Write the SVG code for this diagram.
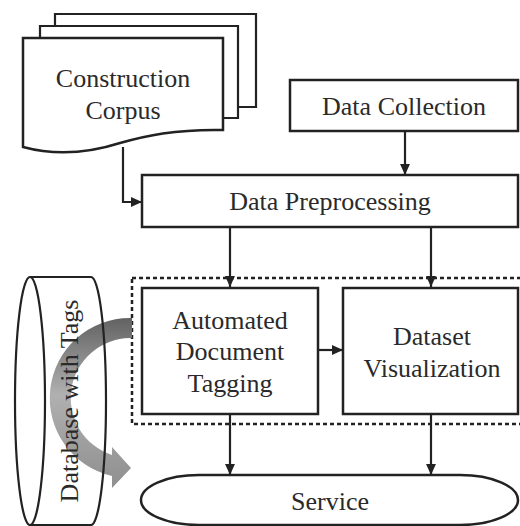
<svg xmlns="http://www.w3.org/2000/svg" width="520" height="526" viewBox="0 0 520 526">
<style>
.box{fill:#fff;stroke:#222;stroke-width:2.5}
.ln{fill:none;stroke:#222;stroke-width:2.2}
.t{font-family:"Liberation Serif","Times New Roman",serif;font-size:26px;fill:#2a2a2a;text-anchor:middle}
</style>
<defs>
<marker id="ah" viewBox="0 0 10 9" refX="10" refY="4.5" markerWidth="11" markerHeight="10" markerUnits="userSpaceOnUse" orient="auto">
<path d="M0,0 L10,4.5 L0,9 z" fill="#222"/>
</marker>
<linearGradient id="g" x1="0" y1="316" x2="0" y2="490" gradientUnits="userSpaceOnUse">
<stop offset="0" stop-color="#606060"/>
<stop offset="0.45" stop-color="#b0b0b0"/>
<stop offset="1" stop-color="#8e8e8e"/>
</linearGradient>
</defs>
<rect width="520" height="526" fill="#fff"/>

<g id="corpus">
<path class="ln" d="M55,26 V14 H256 V107 H238"/>
<path class="ln" d="M40,38 V26 H238 V118 H223"/>
<path class="box" d="M23,38 H223 V130 C175,129 145,136 120,143 C95,151 60,157 23,147 Z"/>
<text class="t" x="123" y="87">Construction</text>
<text class="t" x="123" y="119">Corpus</text>
</g>

<g id="data-collection">
<rect class="box" x="290" y="80" width="228" height="51"/>
<text class="t" x="404" y="115">Data Collection</text>
</g>

<g id="data-preprocessing">
<rect class="box" x="142" y="175" width="376" height="52"/>
<text class="t" x="330" y="210">Data Preprocessing</text>
</g>

<g id="group-box">
<rect x="132" y="278" width="392" height="146" fill="none" stroke="#222" stroke-width="2.5" stroke-dasharray="4 3"/>
</g>

<g id="automated-tagging">
<rect class="box" x="142" y="288" width="176" height="126"/>
<text class="t" x="230" y="329">Automated</text>
<text class="t" x="230" y="360">Document</text>
<text class="t" x="230" y="392">Tagging</text>
</g>

<g id="dataset-visualization">
<rect class="box" x="343" y="288" width="175" height="126"/>
<text class="t" x="432" y="345">Dataset</text>
<text class="t" x="432" y="377">Visualization</text>
</g>

<g id="service">
<rect class="box" x="141" y="475" width="377" height="50" rx="58" ry="25"/>
<text class="t" x="330" y="510">Service</text>
</g>

<g id="database">
<path d="M30,277 H91 A15,124 0 0 1 91,525 H30 Z" fill="#fff"/>
<path d="M132,318 H130 A80,80 0 0 0 112,476 L112,488 L131,468 L112,447 L112,455 A60,60 0 0 1 130,338 H132 Z" fill="url(#g)"/>
<ellipse cx="30" cy="401" rx="15" ry="124" fill="none" stroke="#222" stroke-width="2.2"/>
<path class="ln" d="M30,277 H91 A15,124 0 0 1 91,525 H30"/>
<text class="t" transform="translate(78,401) rotate(-90)" x="0" y="0">Database with Tags</text>
</g>

<g id="connectors">
<path class="ln" d="M123,147 V202 H142" marker-end="url(#ah)"/>
<path class="ln" d="M405,131 V175" marker-end="url(#ah)"/>
<path class="ln" d="M230,227 V287" marker-end="url(#ah)"/>
<path class="ln" d="M431,227 V287" marker-end="url(#ah)"/>
<path class="ln" d="M318,350 H343" marker-end="url(#ah)"/>
<path class="ln" d="M230,414 V475" marker-end="url(#ah)"/>
<path class="ln" d="M431,414 V475" marker-end="url(#ah)"/>
</g>
</svg>
